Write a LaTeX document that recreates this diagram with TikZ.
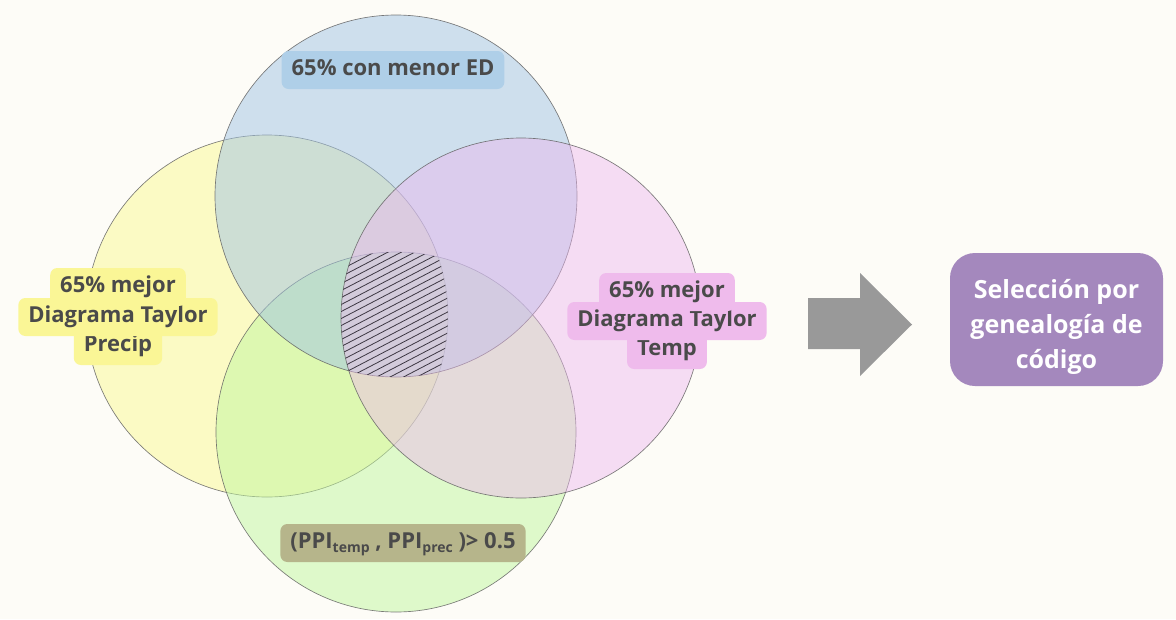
\documentclass[tikz,border=0pt]{standalone}
\usepackage{fontspec}
\setmainfont{Open Sans}
\definecolor{bg}{RGB}{253,252,247}
\definecolor{blueC}{RGB}{161,196,229}
\definecolor{yellowC}{RGB}{251,250,147}
\definecolor{pinkC}{RGB}{237,182,239}
\definecolor{greenC}{RGB}{193,248,159}
\definecolor{ringc}{RGB}{100,100,100}
\definecolor{hatchc}{RGB}{60,54,66}
\definecolor{txt}{RGB}{74,74,74}
\definecolor{lblB}{RGB}{175,207,232}
\definecolor{lblY}{RGB}{250,246,150}
\definecolor{lblP}{RGB}{239,187,236}
\definecolor{lblG}{RGB}{182,181,139}
\definecolor{purp}{RGB}{164,136,189}
\definecolor{arrowc}{RGB}{153,153,153}
\newcommand{\sbs}[1]{\raisebox{-4pt}{\fontsize{14}{14}\selectfont #1}}
\begin{document}
\begin{tikzpicture}[x=1pt,y=-1pt,
  disc/.style={fill opacity=0.5, draw=ringc, draw opacity=0.85, line width=0.65pt},
  hatch/.style={draw=hatchc, line width=0.8pt},
  lbl/.style={font=\fontsize{22}{26}\selectfont\bfseries, text=txt, rounded corners=7pt,
    inner xsep=10pt, inner ysep=8.5pt, text height=16pt, text depth=5pt},
]
\fill[bg] (0,0) rectangle (1176,619);
\coordinate (cB) at (396,196);
\coordinate (cY) at (267,316);
\coordinate (cP) at (521,318);
\coordinate (cG) at (396,432);
% circles: yellow, green, blue, pink (later ones lie over earlier ones)
\path[disc, fill=yellowC] (cY) circle (181pt);
\path[disc, fill=greenC] (cG) circle (180pt);
\path[disc, fill=blueC] (cB) circle (181pt);
\path[disc, fill=pinkC, fill opacity=0.45] (cP) circle (180pt);
% hatch of the common region
\begin{scope}
\clip (cB) circle (181pt);
\clip (cY) circle (181pt);
\clip (cP) circle (180pt);
\clip (cG) circle (180pt);
\foreach \k in {-12,...,50} \draw[hatch] (300,{200+7*\k}) -- ++(230,-120);
\end{scope}
% labels
\node[lbl, fill=lblB] (lblTop) at (393,70) {65\% con menor ED};
\node[lbl, fill=lblY] (y3) at (118,346) {Precip};
\node[lbl, fill=lblY] (y2) at (118,317) {Diagrama Taylor};
\node[lbl, fill=lblY] (y1) at (118,287) {65\% mejor};
\node[lbl, fill=lblP] (p3) at (667,350) {Temp};
\node[lbl, fill=lblP] (p2) at (667,321) {Diagrama Taylor};
\node[lbl, fill=lblP] (p1) at (667,292) {65\% mejor};
\node[lbl, fill=lblG, minimum width=240pt] (lblBot) at (403,543) {(PPI\sbs{temp} , PPI\sbs{prec} )> 0.5};
% block arrow
\fill[arrowc] (808,298) -- (860,298) -- (860,273) -- (912,324.5) -- (860,376) -- (860,349) -- (808,349) -- cycle;
% result box
\node[fill=purp, rounded corners=25pt, minimum width=213pt, minimum height=133pt] (sel) at (1056.5,319.5) {};
\node[text=white, align=center, font=\fontsize{25}{35}\selectfont\bfseries] (seltxt)
  at ([yshift=-7pt]sel.center) {Selección por\\genealogía de\\código};
\end{tikzpicture}
\end{document}
